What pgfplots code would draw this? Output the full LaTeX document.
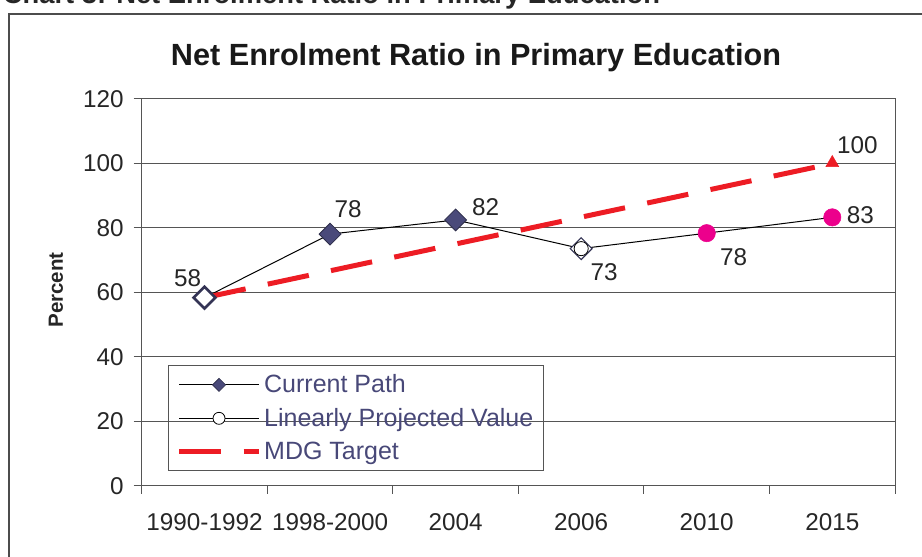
\documentclass[border=0pt]{standalone}
\usepackage{pgfplots}
\pgfplotsset{compat=1.18}
\usepackage{fontspec}
\setmainfont{Liberation Sans}
\definecolor{mdgred}{RGB}{237,28,36}
\definecolor{pathblue}{RGB}{74,74,122}
\definecolor{magpt}{RGB}{236,0,140}
\definecolor{legtext}{RGB}{72,72,120}
\definecolor{gridc}{RGB}{85,85,85}
\begin{document}
\begin{tikzpicture}
\useasboundingbox (0,0) rectangle (691.5pt,417.75pt);
\clip (0,0) rectangle (691.5pt,417.75pt);
\node[anchor=base west, inner sep=0pt, font=\fontsize{20.5}{24}\selectfont\bfseries, text=black!85] at (2pt,414.75pt) {Chart 3: Net Enrolment Ratio in Primary Education};
\draw[line width=1.2pt, black!70] (6.75pt,-20pt) -- (6.75pt,407.25pt) -- (720pt,407.25pt);
\node[anchor=base, inner sep=0pt, font=\fontsize{23}{27}\selectfont\bfseries, text=black!90] at (357pt,368.6pt) {Net Enrolment Ratio in Primary Education};
\begin{axis}[
  at={(106.3pt,53.25pt)}, anchor=south west,
  scale only axis, width=565pt, height=290.25pt,
  xmin=-0.5, xmax=5.5, ymin=0, ymax=120,
  xtick={-0.5,0.5,1.5,2.5,3.5,4.5,5.5},
  x tick label as interval,
  xticklabels={1990-1992,1998-2000,2004,2006,2010,2015},
  ytick={0,20,...,120},
  ymajorgrids,
  grid style={gridc, line width=0.75pt},
  axis line style={gridc, line width=0.75pt},
  every tick/.style={gridc, line width=0.75pt},
  tick align=outside, tick pos=left,
  major tick length=6pt,
  tick label style={font=\fontsize{18.2}{21.6}\selectfont, text=black!85},
  /pgf/number format/assume math mode=true,
  xticklabel style={yshift=-11pt},
  yticklabel style={xshift=-4pt},
  ylabel={Percent},
  ylabel style={at={(axis description cs:-0.1138,0.5065)}, anchor=center, font=\fontsize{15.4}{18}\selectfont\bfseries, text=black!85},
  legend style={at={(0.0349,0.3127)}, anchor=north west, draw=gridc, fill=none, line width=0.75pt,
    font=\fontsize{18.75}{22}\selectfont, text=legtext, inner xsep=6pt, inner ysep=5pt, row sep=6pt,
    nodes={inner sep=2pt}},
  legend cell align=left,
  legend image code/.code={\draw[mark repeat=2,mark phase=2] plot coordinates {(0pt,0pt) (30pt,0pt) (60pt,0pt)};},
]
% legend images
\addlegendimage{black, line width=0.75pt, mark=square*, mark options={rotate=45, fill=pathblue, draw=pathblue!60!black, mark size=3.5pt, line width=0.5pt}}
\addlegendentry{Current Path}
\addlegendimage{black, line width=0.75pt, mark=*, mark options={fill=white, draw=black, mark size=4.5pt, line width=0.6pt}}
\addlegendentry{Linearly Projected Value}
\addlegendimage{mdgred, line width=3.75pt, dash pattern=on 31.5pt off 17pt}
\addlegendentry{MDG Target}
% Current path line
\addplot[forget plot, black, line width=0.75pt, mark=none] coordinates {(0,58.4)(1,78.1)(2,82.5)(3,73.6)(4,78.4)(5,83.3)};
% diamonds
\addplot[forget plot, only marks, mark=square*, mark options={rotate=45, fill=pathblue, draw=pathblue!60!black, mark size=5.8pt, line width=0.6pt}] coordinates {(1,78.1)(2,82.5)};
\addplot[forget plot, only marks, mark=square*, mark options={rotate=45, fill=white, draw=pathblue!70!black, mark size=5.8pt, line width=2pt}] coordinates {(0,58.4)};
\addplot[forget plot, only marks, mark=square*, mark options={rotate=45, fill=white, draw=pathblue!70!black, mark size=5.8pt, line width=0.8pt}] coordinates {(3,73.6)};
% open circle
\addplot[forget plot, only marks, mark=*, mark options={fill=white, draw=black, mark size=5.3pt, line width=0.6pt}] coordinates {(3,73.6)};
% magenta points
\addplot[forget plot, only marks, mark=*, mark options={fill=magpt, draw=magpt, mark size=6.5pt}] coordinates {(4,78.4)(5,83.3)};
% MDG target
\addplot[forget plot, mdgred, line width=3.75pt, dash pattern=on 31.5pt off 17pt, mark=none] coordinates {(0,58.4)(5,100)};
\addplot[forget plot, only marks, mark=triangle*, mark options={fill=mdgred, draw=mdgred, mark size=5.5pt}] coordinates {(5,100.2)};
% data labels
\begin{scope}[every node/.style={font=\fontsize{18.2}{21.6}\selectfont, text=black!85, inner sep=0pt}]
\node[xshift=-12.75pt, yshift=15pt] at (axis cs:0,58.4) {58};
\node[xshift=13.5pt, yshift=18.75pt] at (axis cs:1,78.1) {78};
\node[xshift=22.5pt, yshift=9.75pt] at (axis cs:2,82.5) {82};
\node[xshift=17.25pt, yshift=-18pt] at (axis cs:3,73.6) {73};
\node[xshift=20.25pt, yshift=-18pt] at (axis cs:4,78.4) {78};
\node[xshift=21pt, yshift=1.5pt] at (axis cs:5,83.3) {83};
\node[xshift=18.75pt, yshift=13.5pt] at (axis cs:5,100.2) {100};
\end{scope}
\end{axis}
\end{tikzpicture}
\end{document}
